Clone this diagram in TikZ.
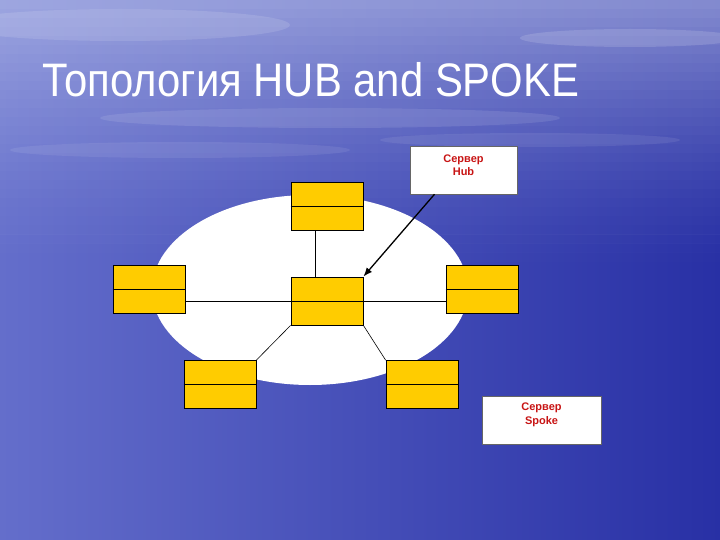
\documentclass[tikz,border=0pt]{standalone}
\usepackage{fontspec}
\setmainfont{Liberation Sans}
\usetikzlibrary{arrows.meta,shapes.geometric}
\definecolor{bgleft}{RGB}{100,110,203}
\definecolor{bgright}{RGB}{40,48,165}
\definecolor{sky}{RGB}{205,212,242}
\definecolor{boxyellow}{RGB}{255,204,0}
\definecolor{labelred}{RGB}{200,20,20}
\tikzset{
  station/.style={draw=black, line width=0.8pt, fill=boxyellow, minimum width=72pt, minimum height=48pt, inner sep=0pt},
  serverbox/.style={draw=black!60, line width=0.5pt, fill=white, inner sep=0pt},
  servertext/.style={inner sep=0pt, align=center, font=\fontsize{11}{13.5}\selectfont\bfseries, text=labelred},
  link/.style={draw=black, line width=0.6pt},
  pointer/.style={draw=black, line width=1.3pt, -{Latex[length=9pt,width=7pt]}}
}
\begin{document}
\begin{tikzpicture}[x=1pt,y=-1pt]
\useasboundingbox (0,0) rectangle (720,540);
% background
\shade[left color=bgleft, right color=bgright] (0,0) rectangle (720,540);
\foreach \i in {0,...,29}{
  \pgfmathsetmacro{\op}{0.55*(1-\i/30)^1.5}
  \fill[sky, opacity=\op] (0,\i*9) rectangle (720,\i*9+9.5);
}
\foreach \cx/\cy/\rx/\ry/\o in {120/25/170/16/0.12, 330/118/230/10/0.1, 630/38/110/9/0.14, 180/150/170/8/0.08, 530/140/150/7/0.08}{
  \fill[white, opacity=\o] (\cx,\cy) ellipse [x radius=\rx pt, y radius=\ry pt];
}
% title
\node[anchor=base west, inner sep=0pt, text=white, xscale=0.89, font=\fontsize{47}{50}\selectfont] (title) at (42,96.5) {Топология HUB and SPOKE};
% ring
\node[ellipse, fill=white, minimum width=316pt, minimum height=190pt, inner sep=0pt] (ring) at (310,290) {};
% stations
\node[station] (top) at (327,206) {};
\node[station] (hubst) at (327,301) {};
\node[station] (right) at (482,289) {};
\node[station] (left) at (149,289.5) {};
\node[station] (bl) at (220,384.5) {};
\node[station] (br) at (422,384.5) {};
% links
\draw[link] ([xshift=-12pt]top.south) -- ([xshift=-12pt]top.south |- hubst.north);
\draw[link] (left.east |- hubst.center) -- (right.west |- hubst.center);
\draw[link] (hubst.south west) -- (bl.north east);
\draw[link] (hubst.south east) -- (br.north west);
% split lines
\foreach \n in {top,hubst,right,left,bl,br}{
  \draw[link] (\n.west) -- (\n.east);
}
% server labels
\node[serverbox, minimum width=107pt, minimum height=48pt] (hub) at (463.5,170) {};
\node[servertext] (hubtext) at (463.5,165) {Сервер\\Hub};
\node[serverbox, minimum width=119pt, minimum height=48pt] (spoke) at (541.5,420) {};
\node[servertext] (spoketext) at (541.5,415) {Сервер\\Spoke};
\coordinate (hubtail) at ([xshift=-29pt]hub.south);
\draw[pointer] (hubtail) -- (hubst.north east);
\end{tikzpicture}
\end{document}
